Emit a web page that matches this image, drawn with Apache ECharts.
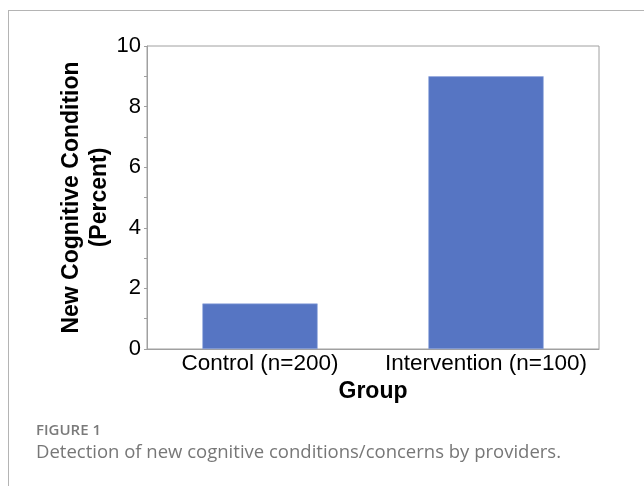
<!DOCTYPE html>
<html><head><meta charset="utf-8">
<script src="https://cdn.jsdelivr.net/npm/echarts@6/dist/echarts.min.js"></script>
<style>html,body{margin:0;padding:0;background:#fff}#c{width:644px;height:486px}</style>
</head><body><div id="c"></div>
<script>
const categories = ["Control (n=200)", "Intervention (n=100)"];
const values = [1.5, 9.0];
const yTicks = [0, 2, 4, 6, 8, 10];

const chart = echarts.init(document.getElementById('c'), null, {renderer: 'canvas'});
chart.setOption({
  animation: false,
  backgroundColor: '#fff',
  grid: {left: 147, right: 45, top: 46, bottom: 137, show: true, borderColor: '#a0a0a0', borderWidth: 1},
  xAxis: {
    type: 'category', data: categories,
    name: 'Group', nameLocation: 'middle', nameGap: 31,
    nameTextStyle: {fontFamily: 'Liberation Sans', fontWeight: 'bold', fontSize: 23, color: '#000'},
    axisLine: {lineStyle: {color: '#a0a0a0'}},
    axisTick: {show: false},
    axisLabel: {interval: 0, fontFamily: 'Liberation Sans', fontSize: 22.5, color: '#000', margin: 3}
  },
  yAxis: {
    type: 'value', min: 0, max: 10, interval: 2,
    name: 'New Cognitive Condition\n(Percent)', nameLocation: 'middle', nameGap: 33, nameRotate: 90,
    nameMoveOverlap: false,
    nameTextStyle: {fontFamily: 'Liberation Sans', fontWeight: 'bold', fontSize: 23, color: '#000', lineHeight: 28},
    axisLine: {show: true, lineStyle: {color: '#a0a0a0'}},
    axisTick: {show: true, length: 3, lineStyle: {color: '#a0a0a0'}},
    minorTick: {show: true, splitNumber: 2, length: 3, lineStyle: {color: '#a0a0a0'}},
    splitLine: {show: false},
    axisLabel: {fontFamily: 'Liberation Sans', fontSize: 22, color: '#000', margin: 6,
      formatter: v => yTicks.includes(v) ? String(v) : ''}
  },
  series: [{
    type: 'bar', data: values, barWidth: '51%',
    itemStyle: {color: '#5675c3', borderColor: '#8fa6de', borderWidth: 0.6}
  }],
  graphic: [
    {type: 'line', shape: {x1: 8, y1: 10.5, x2: 644, y2: 10.5}, style: {stroke: '#b4b4b4', lineWidth: 1}},
    {type: 'line', shape: {x1: 8.5, y1: 10, x2: 8.5, y2: 486}, style: {stroke: '#b4b4b4', lineWidth: 1}},
    {type: 'text', left: 36, top: 423, style: {text: 'FIGURE 1', font: '600 15px "Open Sans"', fill: '#7a7a7a'}},
    {type: 'text', left: 36, top: 443, style: {text: 'Detection of new cognitive conditions/concerns by providers.', font: '18.5px "Open Sans"', fill: '#777'}}
  ]
});
</script></body></html>
